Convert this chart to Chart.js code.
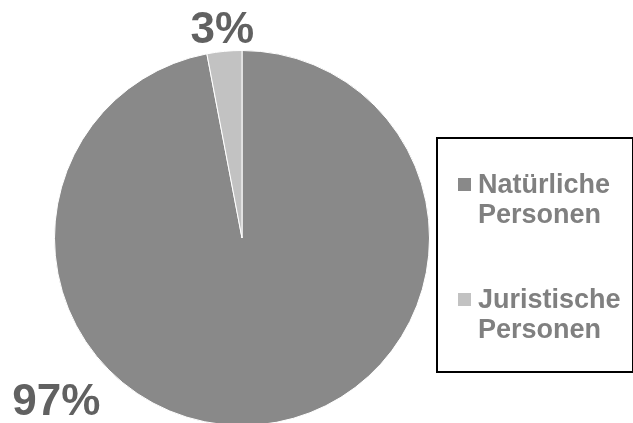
<!DOCTYPE html>
<html>
<head>
<meta charset="utf-8">
<script src="https://cdn.jsdelivr.net/npm/chart.js@4"></script>
<style>
  html, body { margin: 0; padding: 0; background: #fff; overflow: hidden; }
  #wrap { position: relative; width: 633px; height: 430px; }
  #legend {
    position: absolute; left: 436px; top: 137px; width: 194px; height: 232px;
    border: 2px solid #000; box-sizing: content-box;
    font-family: "Liberation Sans", Arial, sans-serif; font-weight: bold;
    font-size: 27px; line-height: 30px; color: #808080;
  }
  .item { position: absolute; left: 40px; }
  .sw { position: absolute; left: -20px; top: 9px; width: 13px; height: 13px; }
</style>
</head>
<body>
<div id="wrap">
  <canvas id="c" width="633" height="430"></canvas>
  <div id="legend"></div>
</div>
<script>
const categories = ["Natürliche Personen", "Juristische Personen"];
const legendLines = [["Natürliche", "Personen"], ["Juristische", "Personen"]];
const values = [97, 3];
const valueLabels = ["97%", "3%"];
const colors = ["#898989", "#c2c2c2"];

// HTML legend built from the data arrays
const legend = document.getElementById('legend');
const itemTops = [30, 145];
categories.forEach((cat, i) => {
  const d = document.createElement('div');
  d.className = 'item';
  d.style.top = itemTops[i] + 'px';
  const sw = document.createElement('div');
  sw.className = 'sw';
  sw.style.background = colors[i];
  d.appendChild(sw);
  d.appendChild(document.createTextNode(legendLines[i][0]));
  d.appendChild(document.createElement('br'));
  d.appendChild(document.createTextNode(legendLines[i][1]));
  legend.appendChild(d);
});

const labelPlugin = {
  id: 'pctLabels',
  afterDatasetsDraw(chart) {
    const ctx = chart.ctx;
    const meta = chart.getDatasetMeta(0);
    ctx.save();
    ctx.font = 'bold 44px "Liberation Sans", Arial, sans-serif';
    ctx.fillStyle = '#616161';
    ctx.textAlign = 'center';
    ctx.textBaseline = 'middle';
    meta.data.forEach((arc, i) => {
      const { x, y, outerRadius } = arc.getProps(['x', 'y', 'outerRadius'], true);
      let lx, ly;
      if (i === 1) {
        const mid = (arc.startAngle + arc.endAngle) / 2;
        lx = x + Math.cos(mid) * (outerRadius + 21);
        ly = y + Math.sin(mid) * (outerRadius + 21);
      } else {
        // large slice label placed at lower-left outside the pie
        lx = x - outerRadius * 0.99;
        ly = y + outerRadius * 0.88;
      }
      ctx.fillText(valueLabels[i], lx, ly);
    });
    ctx.restore();
  }
};

new Chart(document.getElementById('c'), {
  type: 'pie',
  data: {
    labels: categories,
    datasets: [{
      data: values,
      backgroundColor: colors,
      borderColor: '#ffffff',
      borderWidth: 1
    }]
  },
  options: {
    responsive: false,
    animation: false,
    events: [],
    layout: { padding: { left: 54, right: 203, top: 50, bottom: 4 } },
    plugins: { legend: { display: false }, tooltip: { enabled: false } }
  },
  plugins: [labelPlugin]
});
</script>
</body>
</html>
